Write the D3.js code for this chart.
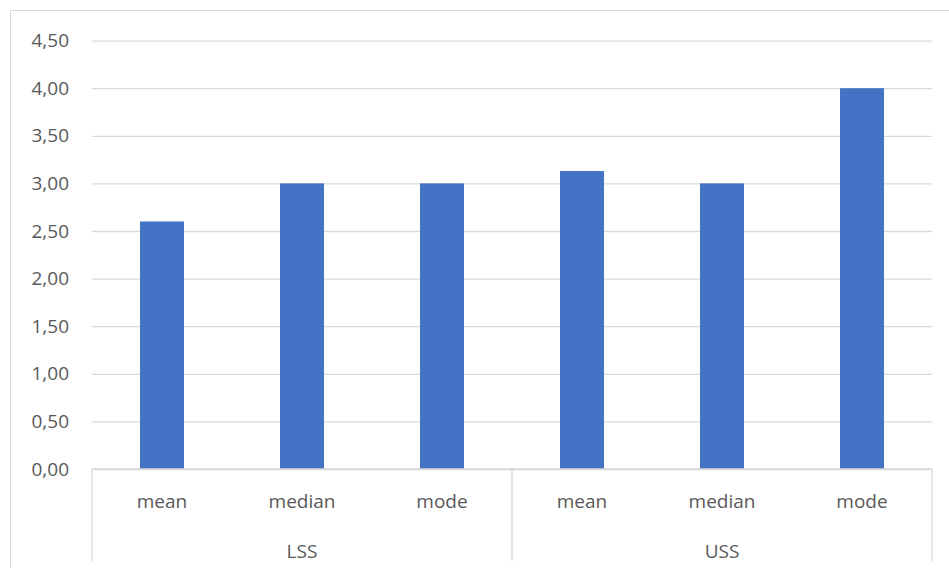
<!DOCTYPE html>
<html><head><meta charset="utf-8">
<script src="https://cdn.jsdelivr.net/npm/d3@7"></script>
<style>body{margin:0;background:#fff}svg{display:block}</style>
</head><body>
<script>
const groups = ["LSS", "USS"];
const stats = ["mean", "median", "mode"];
const values = [2.60, 3.00, 3.00, 3.13, 3.00, 4.00];
const yTicks = [0, 0.5, 1, 1.5, 2, 2.5, 3, 3.5, 4, 4.5];

(function () {
const W = 949, H = 568;
const mLeft = 92, mRight = 932, mTop = 40.6, mBottom = 469;
const font = "'Open Sans', 'DejaVu Sans', sans-serif";
const fs = 19;

const svg = d3.select("body").append("svg").attr("width", W).attr("height", H);
svg.append("rect").attr("x", 10.5).attr("y", 10.5).attr("width", W + 10).attr("height", H + 10)
  .attr("fill", "#fff").attr("stroke", "#d9d9d9");

const cats = [];
groups.forEach(g => stats.forEach(s => cats.push(g + "|" + s)));
const x = d3.scaleBand().domain(cats).range([mLeft, mRight]).paddingInner(0.686).paddingOuter(0.343);
const y = d3.scaleLinear().domain([0, 4.5]).range([mBottom, mTop]);

const yAxis = d3.axisLeft(y).tickValues(yTicks).tickSize(-(mRight - mLeft)).tickPadding(23)
  .tickFormat(d => d3.format(".2f")(d).replace(".", ","));
const ga = svg.append("g").attr("transform", `translate(${mLeft},0)`).call(yAxis);
ga.select(".domain").remove();
ga.selectAll(".tick line").attr("stroke", "#d9d9d9").attr("stroke-width", 1.3);
ga.selectAll(".tick text").attr("fill", "#595959").attr("font-family", font).attr("font-size", fs);

svg.selectAll("rect.bar").data(values).enter().append("rect").attr("class", "bar")
  .attr("x", (d, i) => x(cats[i])).attr("width", x.bandwidth())
  .attr("y", d => y(d)).attr("height", d => y(0) - y(d)).attr("fill", "#4472c4");

svg.append("line").attr("x1", mLeft).attr("x2", mRight).attr("y1", mBottom).attr("y2", mBottom)
  .attr("stroke", "#d9d9d9").attr("stroke-width", 1.3);
const bounds = [0, 3, 6].map(k => mLeft + k * (mRight - mLeft) / 6);
bounds.forEach(bx => svg.append("line").attr("x1", bx).attr("x2", bx).attr("y1", mBottom).attr("y2", 561)
  .attr("stroke", "#d9d9d9").attr("stroke-width", 1.3));

svg.selectAll("text.cat").data(cats).enter().append("text").attr("class", "cat")
  .attr("x", d => x(d) + x.bandwidth() / 2).attr("y", 508)
  .attr("text-anchor", "middle").attr("fill", "#595959").attr("font-family", font).attr("font-size", fs)
  .text(d => d.split("|")[1]);
svg.selectAll("text.grp").data(groups).enter().append("text").attr("class", "grp")
  .attr("x", d => (x(d + "|mean") + x(d + "|mode") + x.bandwidth()) / 2).attr("y", 558)
  .attr("text-anchor", "middle").attr("fill", "#595959").attr("font-family", font).attr("font-size", fs)
  .text(d => d);
})();
</script>
</body></html>
